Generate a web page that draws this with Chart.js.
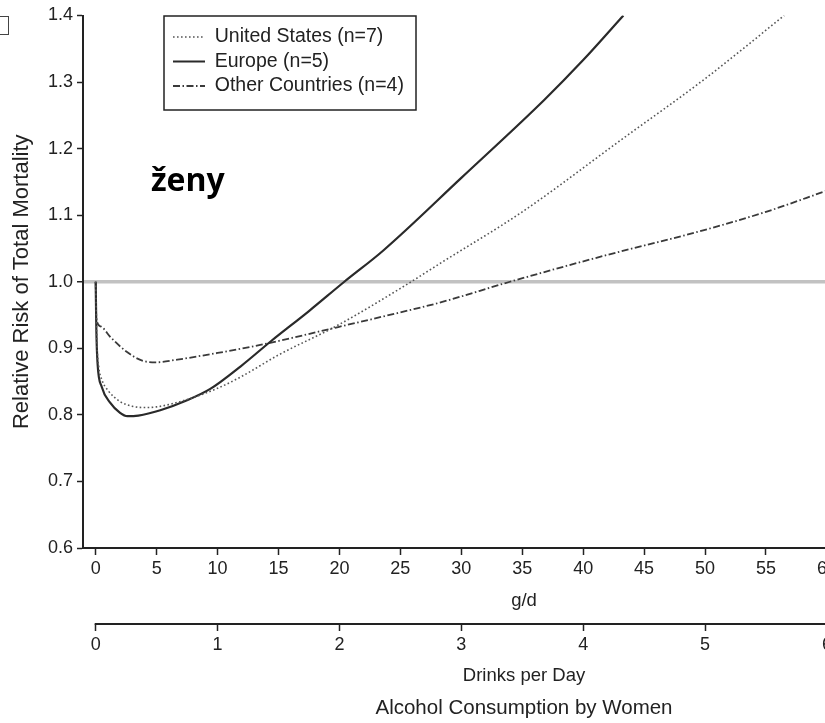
<!DOCTYPE html>
<html>
<head>
<meta charset="utf-8">
<script src="https://cdn.jsdelivr.net/npm/chart.js@4.4.0/dist/chart.umd.min.js"></script>
<style>
  html, body { margin: 0; padding: 0; background: #fff; overflow: hidden; }
  #wrap { position: relative; width: 1048px; height: 723px; }
  #corner { position: absolute; left: -10px; top: 16px; width: 17px; height: 17px; border: 1.5px solid #444; }
  #women { position: absolute; left: 151px; top: 163px; font: bold 32px 'Open Sans', 'Noto Sans', sans-serif; line-height: 1; color: #000; }
</style>
</head>
<body>
<div id="wrap">
  <canvas id="myChart" width="1048" height="723"></canvas>
  <div id="corner"></div>
  <div id="women">ženy</div>
</div>
<script>
// tick values
const gramTicks = [0, 5, 10, 15, 20, 25, 30, 35, 40, 45, 50, 55, 60];
const drinkTicks = [0, 1, 2, 3, 4, 5, 6];
const riskTicks = [0.6, 0.7, 0.8, 0.9, 1.0, 1.1, 1.2, 1.3, 1.4];

const seriesLabels = ['United States (n=7)', 'Europe (n=5)', 'Other Countries (n=4)'];

// g/d and relative risk
const usGrams = [0, 0.1, 0.25, 0.5, 1, 2, 3, 4, 5, 7.5, 10, 11.9, 15, 19.9, 25, 28.3, 35, 43.1, 50, 56.5];
const usRisk  = [1.0, 0.91, 0.872, 0.853, 0.837, 0.82, 0.813, 0.811, 0.812, 0.823, 0.84, 0.857, 0.89, 0.935, 0.99, 1.028, 1.105, 1.213, 1.305, 1.40];

const europeGrams = [0, 0.05, 0.15, 0.5, 1.2, 2, 2.6, 3.5, 5.3, 7.5, 9.4, 11.9, 14.4, 17.5, 20.4, 23.6, 30, 36.8, 40, 43.3];
const europeRisk  = [1.0, 0.93, 0.878, 0.842, 0.818, 0.803, 0.798, 0.799, 0.807, 0.822, 0.839, 0.873, 0.911, 0.956, 1.0, 1.047, 1.156, 1.273, 1.333, 1.40];

const otherGrams = [0, 0.05, 0.4, 1.2, 2.6, 3.9, 5, 6.7, 10, 13.5, 19.9, 25, 28.3, 34, 41.5, 50, 55, 60];
const otherRisk  = [1.0, 0.945, 0.933, 0.917, 0.894, 0.881, 0.879, 0.883, 0.893, 0.905, 0.932, 0.954, 0.969, 1.0, 1.038, 1.078, 1.105, 1.137];

const fontFamily = "'Liberation Sans', Arial, sans-serif";
const ink = '#222';

function toPoints(xs, ys) {
  return xs.map((x, i) => ({x: x, y: ys[i]}));
}

// moves the legend into its frame and draws the drinks axis line
const extras = {
  id: 'extras',
  afterLayout(chart, args, opts) {
    const lg = chart.legend;
    if (!lg) return;
    const dx = opts.legendLeft - lg.left;
    const dy = opts.legendTop - lg.top;
    lg.left += dx; lg.right += dx;
    lg.top += dy; lg.bottom = lg.top + lg.height;
  },
  afterDraw(chart, args, opts) {
    const c = chart.ctx;
    const f = opts.frame;
    c.save();
    c.strokeStyle = ink;
    c.lineWidth = 1.5;
    c.strokeRect(f[0], f[1], f[2], f[3]);
    const s = chart.scales.x2;
    c.lineWidth = 2;
    c.beginPath();
    c.moveTo(s.getPixelForValue(0) - 1, s.top);
    c.lineTo(s.right, s.top);
    c.stroke();
    c.restore();
  }
};

const ctx = document.getElementById('myChart');

new Chart(ctx, {
  type: 'line',
  data: {
    datasets: [
      {
        label: seriesLabels[0],
        data: toPoints(usGrams, usRisk),
        borderColor: '#555',
        borderWidth: 1.6,
        borderDash: [1.6, 2.4]
      },
      {
        label: seriesLabels[1],
        data: toPoints(europeGrams, europeRisk),
        borderColor: '#2a2a2a',
        borderWidth: 2.2
      },
      {
        label: seriesLabels[2],
        data: toPoints(otherGrams, otherRisk),
        borderColor: '#3a3a3a',
        borderWidth: 1.8,
        borderDash: [7, 2.5, 1.5, 2.5]
      }
    ]
  },
  options: {
    responsive: false,
    animation: false,
    elements: {
      point: { radius: 0 },
      line: { cubicInterpolationMode: 'monotone', fill: false }
    },
    layout: { padding: { top: 15.5, right: 83, left: 0, bottom: 0 } },
    scales: {
      x: {
        type: 'linear',
        position: 'bottom',
        min: -1.042,
        max: 71.33,
        afterBuildTicks: (axis) => { axis.ticks = gramTicks.map(v => ({value: v})); },
        afterFit: (axis) => { axis.height = 76; },
        border: { color: ink, width: 2 },
        grid: { drawOnChartArea: false, tickLength: 7, color: ink, tickColor: ink, tickWidth: 1.5 },
        ticks: { color: ink, font: { family: fontFamily, size: 18 }, padding: 3, autoSkip: false, maxRotation: 0, callback: v => String(v) },
        title: { display: true, text: 'g/d', color: ink, font: { family: fontFamily, size: 18.5 }, padding: { top: 2, bottom: 12 } }
      },
      x2: {
        type: 'linear',
        position: 'bottom',
        min: -0.1042,
        max: 7.133,
        afterBuildTicks: (axis) => { axis.ticks = drinkTicks.map(v => ({value: v})); },
        afterFit: (axis) => { axis.height = 66; },
        border: { display: false },
        grid: { drawOnChartArea: false, tickLength: 7, color: ink, tickColor: ink, tickWidth: 1.5 },
        ticks: { color: ink, font: { family: fontFamily, size: 18 }, padding: 3, autoSkip: false, maxRotation: 0, callback: v => String(v) },
        title: { display: true, text: 'Drinks per Day', color: ink, font: { family: fontFamily, size: 18.5 }, padding: { top: 2, bottom: 3 } }
      },
      y: {
        type: 'linear',
        min: 0.6,
        max: 1.4,
        afterBuildTicks: (axis) => { axis.ticks = riskTicks.map(v => ({value: v})); },
        afterFit: (axis) => { axis.width = 83; },
        border: { color: ink, width: 2 },
        grid: {
          color: c => (c.tick && Math.abs(c.tick.value - 1) < 1e-9) ? '#c2c2c2' : 'rgba(0,0,0,0)',
          lineWidth: c => (c.tick && Math.abs(c.tick.value - 1) < 1e-9) ? 3.5 : 1,
          tickLength: 6,
          tickColor: ink,
          tickWidth: 1.5
        },
        ticks: { color: ink, font: { family: fontFamily, size: 18 }, padding: 4, autoSkip: false, callback: v => v.toFixed(1) },
        title: { display: true, text: 'Relative Risk of Total Mortality', color: ink, font: { family: fontFamily, size: 22 }, padding: { top: 9, bottom: 0 } }
      }
    },
    plugins: {
      tooltip: { enabled: false },
      legend: {
        position: 'chartArea',
        align: 'start',
        labels: {
          usePointStyle: true,
          pointStyle: 'line',
          pointStyleWidth: 32,
          padding: 5,
          color: ink,
          font: { family: fontFamily, size: 19.5 },
          generateLabels(chart) {
            return chart.data.datasets.map((ds, i) => ({
              text: ds.label,
              fontColor: ink,
              strokeStyle: ds.borderColor,
              fillStyle: 'rgba(0,0,0,0)',
              lineWidth: ds.borderWidth,
              lineDash: ds.borderDash || [],
              pointStyle: 'line',
              hidden: false,
              datasetIndex: i
            }));
          }
        }
      },
      title: {
        display: true,
        position: 'bottom',
        fullSize: false,
        text: 'Alcohol Consumption by Women',
        color: ink,
        font: { family: fontFamily, size: 20.5, weight: 'normal' },
        padding: { top: 5.7, bottom: 2.7 }
      },
      extras: { legendLeft: 168, legendTop: 22.25, frame: [164, 16, 252, 94] }
    }
  },
  plugins: [extras]
});
</script>
</body>
</html>
